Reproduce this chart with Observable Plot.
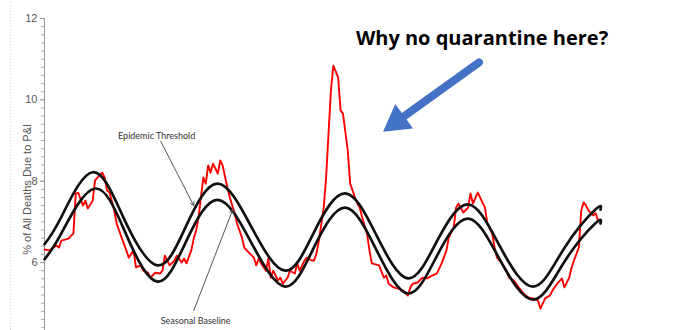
<!DOCTYPE html>
<html>
<head>
<meta charset="utf-8">
<script src="https://cdn.jsdelivr.net/npm/d3@7"></script>
<script src="https://cdn.jsdelivr.net/npm/@observablehq/plot@0.6"></script>
<style>
  html, body { margin: 0; padding: 0; background: #fff; }
  #chart svg { display: block; }
</style>
</head>
<body>
<div id="chart"></div>
<script>
// ---- data (weekly index, % of deaths due to P&I) ----
const observedWeeks = [0,2,5,6,7,10,11,12,13,14,16,17,18,20,21,22,24,25,26,27,29,30,32,34,35,37,38,40,41,43,44,46,48,49,50,52,54,55,57,58,59,61,62,63,64,65,66,67,68,69,70,72,73,74,76,77,79,80,82,83,84,87,88,89,90,92,93,94,95,97,98,99,101,102,104,105,106,108,109,111,112,113,114,116,117,118,119,120,122,123,124,126,127,129,130,131,132,134,135,136,139,141,142,143,145,147,149,151,152,153,155,157,159,161,163,165,167,168,170,171,172,174,176,177,178,180,183,184,186,187,188,190,192,193,195,197,199,201,203,205,206,208,210,211,213,215,216,218,219,220,222,223,224,225,226,228,229,230];
const observedValues = [6.32,6.30,6.42,6.37,6.54,6.59,6.66,6.71,7.70,7.72,7.40,7.52,7.33,7.52,8.02,8.09,8.21,8.09,7.77,7.72,7.28,6.96,6.62,6.30,6.12,6.30,5.88,5.93,5.80,5.75,5.63,5.75,5.73,5.80,6.17,5.93,6.05,6.17,6.00,6.10,5.98,6.30,6.59,6.79,7.11,7.60,8.09,7.94,8.39,8.21,8.43,8.19,8.51,8.39,7.84,7.60,7.21,6.96,6.62,6.37,6.30,6.12,5.93,6.10,5.98,5.80,6.10,5.63,5.80,5.56,5.63,5.48,5.63,5.80,5.73,5.98,5.80,6.05,6.12,6.05,6.05,6.22,6.54,7.35,8.09,9.17,10.23,10.84,10.55,9.74,9.66,8.75,7.94,7.60,7.45,7.35,7.11,6.71,6.30,5.98,5.93,5.63,5.68,5.48,5.39,5.36,5.31,5.19,5.39,5.48,5.51,5.63,5.61,5.68,5.73,5.98,6.30,6.62,6.86,7.35,7.45,7.23,7.35,7.70,7.45,7.72,7.35,6.96,6.71,6.37,6.12,5.98,5.80,5.63,5.56,5.39,5.24,5.14,5.12,5.07,4.87,5.12,5.19,5.31,5.48,5.61,5.39,5.63,5.88,6.05,6.37,7.28,7.48,7.40,7.28,7.16,7.21,7.03];

const thresholdWeeks = [0,7,20,33,47,59,72,86,100,112,125,138,151,163,176,189,203,216,229,231];
const thresholdValues = [6.45,7.12,8.22,7.08,5.93,6.92,7.94,6.87,5.80,6.75,7.70,6.66,5.61,6.52,7.43,6.42,5.41,6.36,7.31,7.30];

const baselineWeeks = [0,7,21,34,47,59,72,86,100,112,125,138,151,163,176,189,203,216,229,231];
const baselineValues = [6.08,6.72,7.82,6.68,5.53,6.54,7.54,6.48,5.41,6.38,7.35,6.30,5.24,6.16,7.08,6.09,5.09,6.02,6.97,6.96];

const yTickValues = [6, 8, 10, 12];
const yMinorStep = 0.2;
const yLabel = "% of All Deaths Due to P&I";
const titleText = "Why no quarantine here?";
const thresholdLabel = "Epidemic Threshold";
const baselineLabel = "Seasonal Baseline";

// annotation anchors (in data units)
const notes = [
  {text: thresholdLabel, x: 46.6, y: 9.12},
  {text: baselineLabel, x: 62.8, y: 4.55}
];
const noteArrows = [
  {x1: 48.3, y1: 8.98, x2: 62.0, y2: 7.40},
  {x1: 62.0, y1: 4.82, x2: 78.2, y2: 7.30}
];
const blueShaft = [{x: 180.5, y: 10.92}, {x: 148.1, y: 9.54}];
const blueHead = [{x: 146.5, y: 9.47}];

const zip = (xs, ys) => xs.map((x, i) => ({x, y: ys[i]}));
const observed = zip(observedWeeks, observedValues);
const threshold = zip(thresholdWeeks, thresholdValues);
const baseline = zip(baselineWeeks, baselineValues);
const yMinor = d3.range(4.4, 12.001, yMinorStep);

const chart = Plot.plot({
  width: 680,
  height: 330,
  marginLeft: 44,
  marginRight: 80,
  marginTop: 18,
  marginBottom: 0,
  style: {fontFamily: "'Liberation Sans', Arial, sans-serif", background: "#fff"},
  x: {domain: [0, 231], axis: null},
  y: {domain: [4.33, 12], axis: null},
  marks: [
    Plot.ruleX([-14.1], {y1: 4.33, y2: 12.4, stroke: "#d8d8d8", strokeDasharray: "1,2"}),
    Plot.ruleX([0], {y1: 4.33, y2: 12, stroke: "#999", strokeWidth: 1}),
    Plot.ruleY(yMinor, {x1: -1.25, x2: 0, stroke: "#aaa"}),
    Plot.axisY(yTickValues, {anchor: "left", tickSize: 4, tickPadding: 3, fontSize: 11, stroke: "#999", fill: "#555", label: null}),
    Plot.text([yLabel], {frameAnchor: "left", dx: -17, y: [7.8], rotate: -90, textAnchor: "middle", fontSize: 11, fill: "#555", text: d => d}),
    Plot.line(observed, {x: "x", y: "y", stroke: "#ff0000", strokeWidth: 1.9}),
    Plot.line(threshold, {x: "x", y: "y", stroke: "#111", strokeWidth: 2.7, curve: "natural"}),
    Plot.line(baseline, {x: "x", y: "y", stroke: "#111", strokeWidth: 2.7, curve: "natural"}),
    Plot.arrow(noteArrows, {x1: "x1", y1: "y1", x2: "x2", y2: "y2", stroke: "#555", strokeWidth: 1, headLength: 6}),
    Plot.text(notes, {x: "x", y: "y", text: "text", fontSize: 9, fill: "#333", fontFamily: "Lato, 'Open Sans', sans-serif"}),
    Plot.line(blueShaft, {x: "x", y: "y", stroke: "#4472C4", strokeWidth: 8}),
    Plot.dot(blueHead, {x: "x", y: "y", symbol: "triangle", r: 11.2, fill: "#4472C4", stroke: "none", rotate: 234}),
    Plot.text([titleText], {x: [181.8], y: [11.51], text: d => d, fontSize: 20, fontWeight: 700, fill: "#000", fontFamily: "'Open Sans', Lato, sans-serif"})
  ]
});

document.getElementById("chart").appendChild(chart);
</script>
</body>
</html>
